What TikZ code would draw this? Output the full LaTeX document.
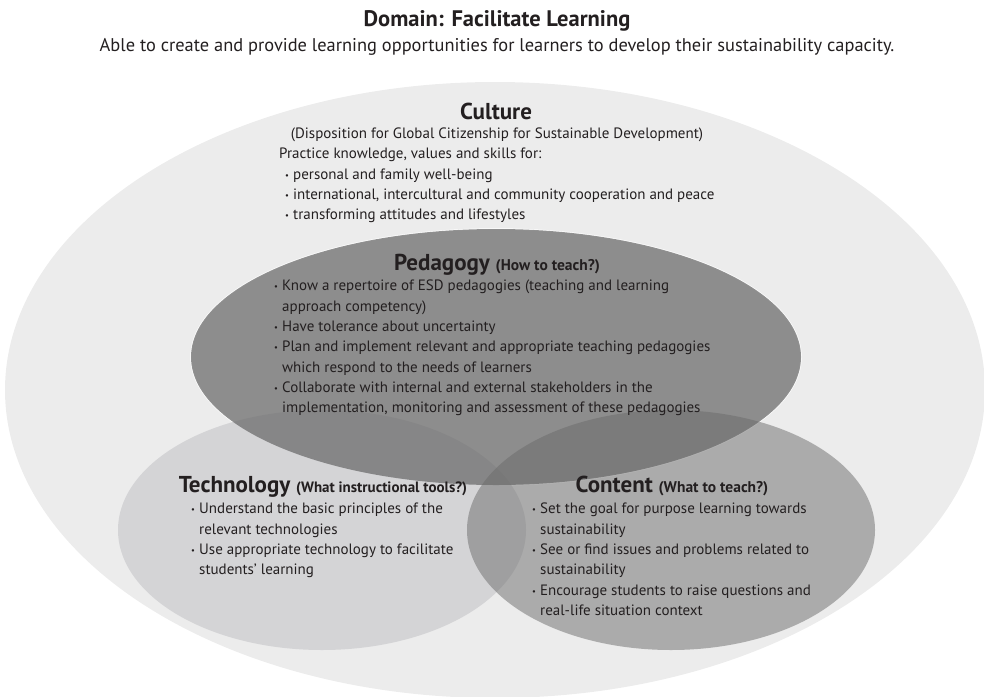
\documentclass[tikz,border=0pt]{standalone}
\usepackage{fontspec}
\setmainfont{PT Sans}
\usetikzlibrary{positioning}

\definecolor{inkgray}{HTML}{231F20}
\definecolor{techfill}{HTML}{D4D4D6}
\newcommand\bul{\makebox[8pt][l]{\raisebox{1pt}{\fontsize{8.5}{8.5}\selectfont\textbullet}}}
\newcommand\ind{\hspace*{8pt}}

\begin{document}
\begin{tikzpicture}[x=1pt,y=1pt,
	heading/.style={font=\bfseries\fontsize{23}{25}\selectfont,text=inkgray,inner sep=0pt,anchor=base},
	body/.style={font=\fontsize{15}{20.3}\selectfont,text=inkgray,align=left,inner sep=0pt,anchor=north west}]
	\def\culturefill{black!7.5}  % fondo claro
	\def\contentfill{black!58}
	\def\pedfill{black!59}
	\useasboundingbox (0,0) rectangle (984,-696);
	\clip (0,0) rectangle (984,-696);
	% elipses
	\fill[\culturefill] (495,-390) ellipse [x radius=490, y radius=308];
	\draw[white,line width=1.4pt] (496,-357) ellipse [x radius=305, y radius=128];
	\fill[techfill] (322,-530) ellipse [x radius=204, y radius=120];
	\fill[\contentfill,opacity=0.5] (671,-530) ellipse [x radius=204, y radius=120];
	\fill[\pedfill,opacity=0.72] (496,-357) ellipse [x radius=305, y radius=128];
	% textos
	\node[heading,font=\bfseries\fontsize{22.5}{24}\selectfont] (title) at (497,-26) {Domain: Facilitate Learning};
	\node[body,anchor=base,font=\fontsize{18.4}{20}\selectfont] (subtitle) at (497,-51)
		{Able to create and provide learning opportunities for learners to develop their sustainability capacity.};
	\node[heading] (culture) at (496,-119) {Culture};
	\node[body,anchor=base] (disposition) at (497,-138)
		{(Disposition for Global Citizenship for Sustainable Development)};
	\node[body] (culturelist) at (279,-148) {Practice knowledge, values and skills for:\\
		\hspace*{6pt}\bul personal and family well-being\\
		\hspace*{6pt}\bul international, intercultural and community cooperation and peace\\
		\hspace*{6pt}\bul transforming attitudes and lifestyles};
	\node[heading] (pedagogy) at (497,-270) {Pedagogy {\fontsize{15.5}{17}\selectfont(How to teach?)}};
	\node[body] (pedlist) at (274,-280) {\bul Know a repertoire of ESD pedagogies (teaching and learning\\
		\ind approach competency)\\
		\bul Have tolerance about uncertainty\\
		\bul Plan and implement relevant and appropriate teaching pedagogies\\
		\ind which respond to the needs of learners\\
		\bul Collaborate with internal and external stakeholders in the\\
		\ind implementation, monitoring and assessment of these pedagogies};
	\node[heading] (technology) at (323,-492) {Technology {\fontsize{15}{17}\selectfont(What instructional tools?)}};
	\node[body] (techlist) at (191,-503) {\bul Understand the basic principles of the\\
		\ind relevant technologies\\
		\bul Use appropriate technology to facilitate\\
		\ind students' learning};
	\node[heading] (content) at (672,-492) {Content {\fontsize{15.5}{17}\selectfont(What to teach?)}};
	\node[body] (contentlist) at (532,-503) {\bul Set the goal for purpose learning towards\\
		\ind sustainability\\
		\bul See or find issues and problems related to\\
		\ind sustainability\\
		\bul Encourage students to raise questions and\\
		\ind real-life situation context};
\end{tikzpicture}
\end{document}
